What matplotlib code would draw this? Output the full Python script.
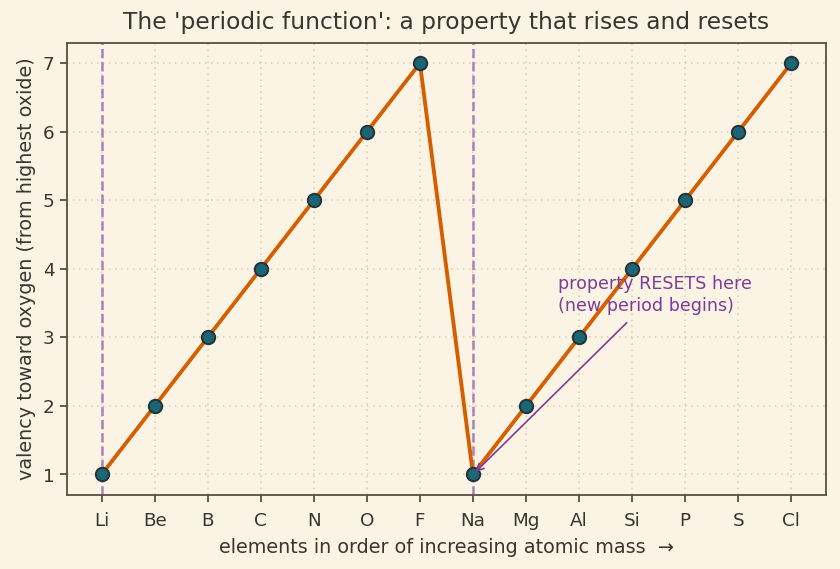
import matplotlib
matplotlib.use("Agg")
import matplotlib.pyplot as plt

elements = ["Li", "Be", "B", "C", "N", "O", "F", "Na", "Mg", "Al", "Si", "P", "S", "Cl"]
valency = [1, 2, 3, 4, 5, 6, 7, 1, 2, 3, 4, 5, 6, 7]
period_starts = [0, 7]

bg = "#fbf3e4"
ink = "#3a3530"
spine = "#5a5045"

plt.rcParams["font.family"] = ["DejaVu Sans"]
fig, ax = plt.subplots(figsize=(7.0, 4.742), dpi=120)
fig.patch.set_facecolor(bg)
ax.set_facecolor(bg)

x = list(range(len(elements)))
for s in period_starts:
    ax.axvline(s, color="#9b6fb5", linestyle="--", linewidth=1.5, alpha=0.85, zorder=1)

ax.plot(x, valency, color="#d55e00", linewidth=2.3, zorder=2)
ax.plot(x, valency, linestyle="none", marker="o", markersize=8,
        markerfacecolor="#1b6674", markeredgecolor="#263238", markeredgewidth=1.2, zorder=3)

ax.annotate("property RESETS here\n(new period begins)", xy=(7, 1), xytext=(8.6, 3.33),
            color="#7d3c98", fontsize=10.5, ha="left", va="bottom", linespacing=1.25,
            arrowprops=dict(arrowstyle="->", color="#7d3c98", lw=1.0, shrinkA=4, shrinkB=2))

ax.set_xticks(x)
ax.set_xticklabels(elements)
ax.set_yticks(range(1, 8))
ax.grid(True, linestyle=(0, (1, 3)), color="#d6c9ad", linewidth=0.9)
ax.set_axisbelow(True)
for sp in ax.spines.values():
    sp.set_color(spine)
    sp.set_linewidth(1.1)
ax.tick_params(colors=spine, labelcolor=ink, labelsize=11, length=4, width=1.1)
ax.tick_params(axis="x", pad=6)

ax.set_xlabel("elements in order of increasing atomic mass  \u2192", color=ink, fontsize=11.5, labelpad=5)
ax.set_ylabel("valency toward oxygen (from highest oxide)", color=ink, fontsize=11.5)
ax.set_title("The 'periodic function': a property that rises and resets", color=ink, fontsize=14, pad=8)

fig.subplots_adjust(left=0.08, right=0.983, top=0.925, bottom=0.13)
fig.savefig("out.png", dpi=120, facecolor=bg)
